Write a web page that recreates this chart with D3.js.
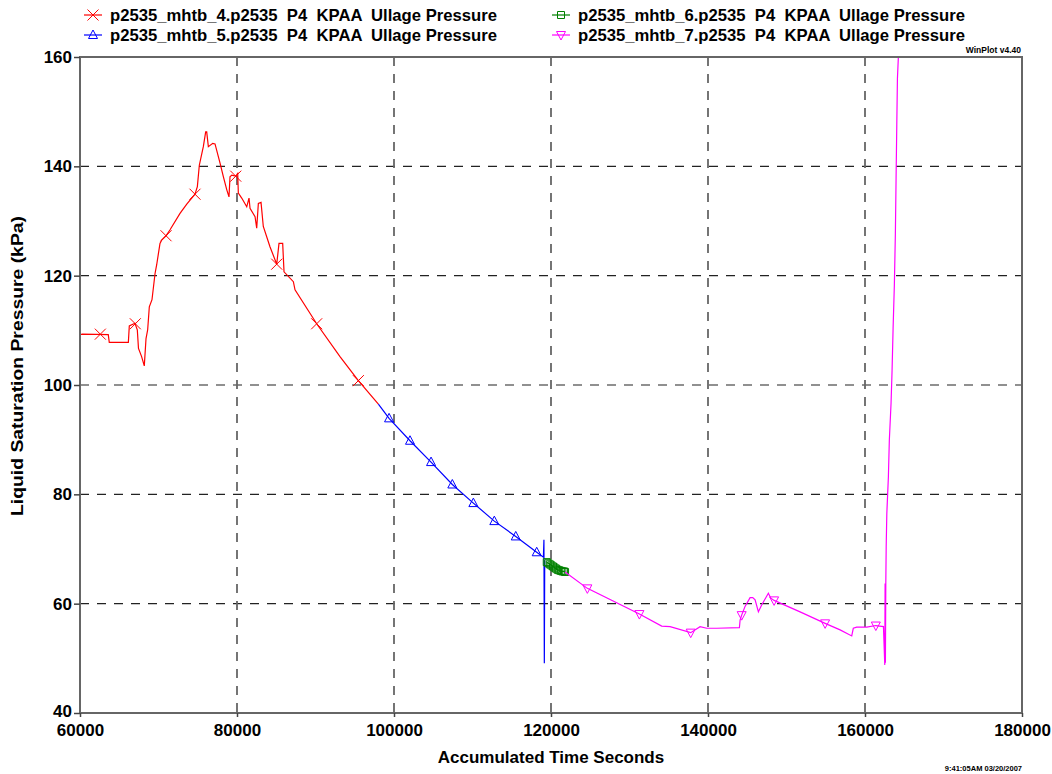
<!DOCTYPE html>
<html>
<head>
<meta charset="utf-8">
<script src="https://cdn.jsdelivr.net/npm/d3@7"></script>
<style>
  body { margin: 0; background: #fff; }
  svg text { font-family: 'Liberation Sans', Arial, sans-serif; font-weight: bold; fill: #000; white-space: pre; }
</style>
</head>
<body>
<svg id="chart" width="1052" height="774"></svg>
<script>
// Constants
const WIDTH = 1052;
const HEIGHT = 774;
const PLOT = { left: 80, right: 1022, top: 57, bottom: 713 };

// Data ([seconds, kPa])
const X_TICKS = [60000, 80000, 100000, 120000, 140000, 160000, 180000];
const Y_TICKS = [40, 60, 80, 100, 120, 140, 160];

const mhtb4Line = [
  [60000, 109.2], [60300, 109.3], [63600, 109.2], [63730, 107.8], [66160, 107.8], [66280, 110.8],
  [67000, 111.3], [67300, 110.1], [67450, 106.7], [67850, 105.2], [68190, 103.5], [68410, 108.5],
  [68620, 110.1], [68830, 114.3], [69170, 115.6], [69560, 120.4], [69770, 122.0], [70190, 125.9],
  [70400, 126.5], [70960, 127.3], [71470, 128.4], [72740, 131.4], [73600, 133.1], [74650, 134.9],
  [74950, 136.3], [75200, 140.2], [75710, 143.6], [76010, 146.3], [76140, 146.3], [76350, 143.6],
  [76910, 144.2], [77200, 144.1], [77840, 140.6], [78260, 138.1], [78700, 135.7], [78980, 134.4],
  [79110, 138.1], [79330, 138.4], [79840, 138.2], [80090, 138.7], [80170, 135.1], [80600, 134.2],
  [81240, 132.6], [81530, 134.2], [81660, 132.3], [82300, 130.8], [82510, 128.7], [82720, 133.2],
  [83060, 133.4], [83350, 129.0], [84200, 125.3], [85060, 122.1], [85350, 125.9], [85820, 125.9],
  [85990, 120.7], [87180, 118.9], [87390, 117.4], [90150, 111.2], [93120, 105.2], [95460, 100.8],
  [98010, 96.5]
];
const mhtb4Marks = [
  [62590, 109.3], [67045, 111.2], [70960, 127.3], [74650, 134.9], [79840, 138.2],
  [85060, 122.1], [90150, 111.2], [95460, 100.8]
];

const mhtb5Line = [
  [98010, 96.5], [99370, 93.9], [102040, 89.8], [104720, 85.9], [107430, 81.8], [110110, 78.4],
  [112780, 75.1], [115510, 72.3], [118180, 69.4], [119030, 68.5], [119100, 71.7], [119150, 49.1],
  [119200, 67.9]
];
const mhtb5Marks = [
  [99370, 93.9], [102040, 89.8], [104720, 85.9], [107430, 81.8], [110110, 78.4],
  [112780, 75.1], [115510, 72.3], [118180, 69.4]
];

const mhtb6Line = [
  [119460, 67.6], [119650, 67.4], [119850, 67.2], [120050, 67.0], [120250, 66.8], [120450, 66.6],
  [120650, 66.4], [120850, 66.2], [121050, 66.1], [121250, 66.0], [121450, 65.9], [121650, 65.9],
  [121790, 65.8]
];
const mhtb6Marks = mhtb6Line;

const mhtb7Line = [
  [121790, 65.8], [124630, 62.8], [131260, 58.1], [134100, 55.9], [135170, 55.8], [137800, 54.7],
  [138990, 55.8], [139840, 55.5], [141110, 55.5], [144000, 55.6], [144090, 57.0], [144290, 57.9],
  [144720, 59.5], [145360, 61.1], [145700, 61.1], [146000, 60.7], [146420, 58.5], [146850, 59.8],
  [147690, 61.9], [148000, 61.0], [148420, 60.6], [151730, 58.5], [154920, 56.4], [156830, 55.2],
  [158310, 54.1], [158510, 55.5], [158940, 55.7], [160220, 55.7], [161380, 56.0], [162350, 55.8],
  [162520, 48.8], [162560, 63.7], [162600, 49.2], [162650, 63.7], [162700, 70.4], [162780, 76.5],
  [162980, 83.2], [163100, 89.9], [163320, 96.7], [163450, 102.7], [163580, 110.4], [163740, 118.3],
  [163870, 127.7], [163960, 137.8], [164050, 147.6], [164130, 156.0], [164250, 160.0], [164300, 165.0]
];
const mhtb7Marks = [
  [124630, 62.8], [131260, 58.1], [137800, 54.7], [144290, 57.9], [148420, 60.6],
  [154920, 56.4], [161380, 56.0]
];

const SERIES = [
  { name: 'p2535_mhtb_4.p2535  P4  KPAA  Ullage Pressure', color: '#ff0000', shape: 'x', line: mhtb4Line, marks: mhtb4Marks },
  { name: 'p2535_mhtb_5.p2535  P4  KPAA  Ullage Pressure', color: '#0000ff', shape: 'up', line: mhtb5Line, marks: mhtb5Marks },
  { name: 'p2535_mhtb_6.p2535  P4  KPAA  Ullage Pressure', color: '#008000', shape: 'square', line: mhtb6Line, marks: mhtb6Marks },
  { name: 'p2535_mhtb_7.p2535  P4  KPAA  Ullage Pressure', color: '#ff00ff', shape: 'down', line: mhtb7Line, marks: mhtb7Marks },
];

// Marker path generators
function markerPath(shape) {
  switch (shape) {
    case 'x': return 'M-5.5,-5.5L5.5,5.5M-5.5,5.5L5.5,-5.5';
    case 'up': return 'M0,-5L4.5,3.5L-4.5,3.5Z';
    case 'down': return 'M0,5L4.5,-3.5L-4.5,-3.5Z';
    default: return 'M-3.5,-3.5H3.5V3.5H-3.5Z';
  }
}

const svg = d3.select('#chart');

// Scales
const x = d3.scaleLinear([60000, 180000], [PLOT.left, PLOT.right]);
const y = d3.scaleLinear([40, 160], [PLOT.bottom, PLOT.top]);

// Grid
svg.append('g')
  .selectAll('line')
  .data(Y_TICKS.slice(1, -1))
  .join('line')
  .attr('x1', PLOT.left).attr('x2', PLOT.right)
  .attr('y1', (d) => y(d)).attr('y2', (d) => y(d))
  .attr('stroke', '#222').attr('stroke-width', 1.2)
  .attr('stroke-dasharray', '9,8');

svg.append('g')
  .selectAll('line')
  .data(X_TICKS.slice(1, -1))
  .join('line')
  .attr('x1', (d) => x(d)).attr('x2', (d) => x(d))
  .attr('y1', PLOT.top).attr('y2', PLOT.bottom)
  .attr('stroke', '#666').attr('stroke-width', 1.8)
  .attr('stroke-dasharray', '9,8');

// Data
svg.append('clipPath').attr('id', 'clip')
  .append('rect')
  .attr('x', PLOT.left).attr('y', PLOT.top)
  .attr('width', PLOT.right - PLOT.left).attr('height', PLOT.bottom - PLOT.top);

const line = d3.line().x((d) => x(d[0])).y((d) => y(d[1]));
const plot = svg.append('g').attr('clip-path', 'url(#clip)');

SERIES.forEach((s) => {
  plot.append('path')
    .attr('d', line(s.line))
    .attr('fill', 'none')
    .attr('stroke', s.color)
    .attr('stroke-width', 1.2);
  plot.append('g')
    .selectAll('path')
    .data(s.marks)
    .join('path')
    .attr('transform', (d) => `translate(${x(d[0])},${y(d[1])})`)
    .attr('d', markerPath(s.shape))
    .attr('fill', 'none')
    .attr('stroke', s.color)
    .attr('stroke-width', 1);
});

// Frame
svg.append('rect')
  .attr('x', PLOT.left).attr('y', PLOT.top)
  .attr('width', PLOT.right - PLOT.left).attr('height', PLOT.bottom - PLOT.top)
  .attr('fill', 'none').attr('stroke', '#666').attr('stroke-width', 2);

// Axes
const yAxis = d3.axisLeft(y).tickValues(Y_TICKS).tickSize(6).tickSizeOuter(0).tickPadding(2);
const xAxis = d3.axisBottom(x).tickValues(X_TICKS).tickSize(4).tickSizeOuter(0).tickPadding(7)
  .tickFormat(d3.format('d'));

const gy = svg.append('g').attr('transform', `translate(${PLOT.left},0)`).call(yAxis);
const gx = svg.append('g').attr('transform', `translate(0,${PLOT.bottom})`).call(xAxis);
[gx, gy].forEach((g) => {
  g.select('.domain').remove();
  g.selectAll('line').attr('stroke', '#444').attr('stroke-width', 1.5);
  g.selectAll('text').attr('font-size', 17).attr('font-family', null);
});
// the bottom "40" label sits just above the x labels
gy.selectAll('.tick text').filter((d) => d === 40).attr('dy', '0.2em');

// Axis titles
svg.append('text')
  .attr('x', (PLOT.left + PLOT.right) / 2).attr('y', 763)
  .attr('text-anchor', 'middle').attr('font-size', 17)
  .text('Accumulated Time Seconds');

svg.append('text')
  .attr('transform', `translate(23,366) rotate(-90)`)
  .attr('text-anchor', 'middle').attr('font-size', 16)
  .attr('textLength', 300)
  .attr('lengthAdjust', 'spacingAndGlyphs')
  .text('Liquid Saturation Pressure (kPa)');

// Small labels
svg.append('text')
  .attr('x', 1021).attr('y', 53)
  .attr('text-anchor', 'end').attr('font-size', 8.5)
  .text('WinPlot v4.40');

svg.append('text')
  .attr('x', 1022).attr('y', 771)
  .attr('text-anchor', 'end').attr('font-size', 7.5)
  .text('9:41:05AM 03/20/2007');

// Legend
const legend = svg.append('g')
  .selectAll('g')
  .data(SERIES)
  .join('g')
  .attr('transform', (d, i) => `translate(${i < 2 ? 84 : 552},${i % 2 === 0 ? 15 : 35})`);

legend.append('line')
  .attr('x1', 0).attr('x2', 18)
  .attr('stroke', (d) => d.color).attr('stroke-width', 1.2);
legend.append('path')
  .attr('transform', 'translate(9,0)')
  .attr('d', (d) => markerPath(d.shape))
  .attr('fill', 'none')
  .attr('stroke', (d) => d.color);
legend.append('text')
  .attr('x', 26).attr('y', 6)
  .attr('font-size', 17)
  .attr('textLength', 387)
  .attr('lengthAdjust', 'spacingAndGlyphs')
  .text((d) => d.name);
</script>
</body>
</html>
